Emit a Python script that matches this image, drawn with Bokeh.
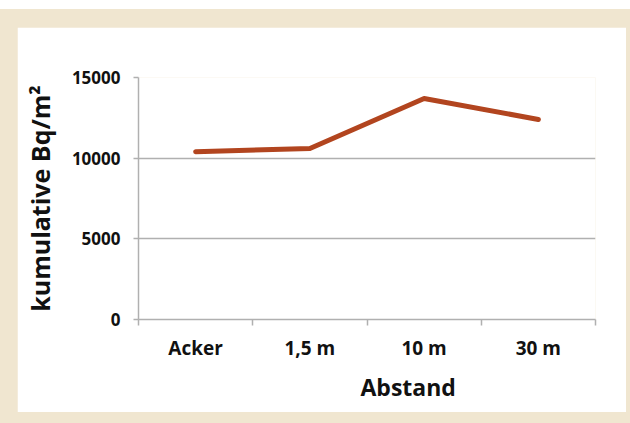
import numpy as np
from bokeh.plotting import figure
from bokeh.models import Range1d, FixedTicker, Title
from bokeh.layouts import column
from bokeh.embed import file_html
from bokeh.resources import INLINE

# ---- data ----
categories = ["Acker", "1,5 m", "10 m", "30 m"]
values = [10400, 10600, 13700, 12400]
y_ticks = [0, 5000, 10000, 15000]
y_label = "kumulative Bq/m²"
x_label = "Abstand"

BEIGE = "#F0E6D0"
LINE = "#B2451F"
GRAY = "#B0B0B0"
TEXT = "#111111"
FONT = "Open Sans"

n = len(categories)
xc = np.arange(n) + 0.5

p = figure(width=609, height=385, x_range=Range1d(0, n), y_range=Range1d(0, 15000),
           output_backend="svg", toolbar_location=None,
           min_border_left=121, min_border_right=31, min_border_top=50, min_border_bottom=93,
           background_fill_color="white", border_fill_color="white", outline_line_color=None,
           margin=(18, 4, 11, 17))

p.line(xc, values, line_color=LINE, line_width=5, line_cap="round", line_join="round")

# x axis: boundary ticks as minor ticks, labels at centres
xa = p.xaxis[0]
xa.ticker = FixedTicker(ticks=list(xc), minor_ticks=list(range(n + 1)))
xa.major_label_overrides = {float(x): c for x, c in zip(xc, categories)}
xa.major_tick_line_color = None
xa.minor_tick_line_color = GRAY
xa.minor_tick_line_width = 1.5
xa.minor_tick_out = 6
xa.minor_tick_in = 0
xa.axis_line_color = GRAY
xa.axis_line_width = 1.5
xa.major_label_text_font = FONT
xa.major_label_text_font_style = "bold"
xa.major_label_text_font_size = "19px"
xa.major_label_text_color = TEXT
xa.major_label_standoff = 9

ya = p.yaxis[0]
ya.ticker = FixedTicker(ticks=y_ticks, minor_ticks=[])
ya.major_tick_line_color = GRAY
ya.major_tick_line_width = 1.5
ya.major_tick_out = 5
ya.major_tick_in = 0
ya.axis_line_color = GRAY
ya.axis_line_width = 1.5
ya.major_label_text_font = FONT
ya.major_label_text_font_style = "bold"
ya.major_label_text_font_size = "17px"
ya.major_label_text_color = TEXT
ya.major_label_standoff = 13
ya.axis_label = y_label
ya.axis_label_text_font = FONT
ya.axis_label_text_font_style = "bold"
ya.axis_label_text_font_size = "25px"
ya.axis_label_text_color = TEXT
ya.axis_label_standoff = 12

p.xgrid.visible = False
p.ygrid.ticker = FixedTicker(ticks=y_ticks)
p.ygrid.grid_line_color = GRAY
p.ygrid.grid_line_width = 1.5

p.add_layout(Title(text=x_label, align="left", offset=222, text_font=FONT,
                   text_font_style="bold", text_font_size="23px", text_color=TEXT,
                   standoff=10), "below")

layout = column(p, margin=(9, 0, 0, 0), styles={"background-color": BEIGE})

open("out.html", "w").write(file_html(layout, INLINE))
